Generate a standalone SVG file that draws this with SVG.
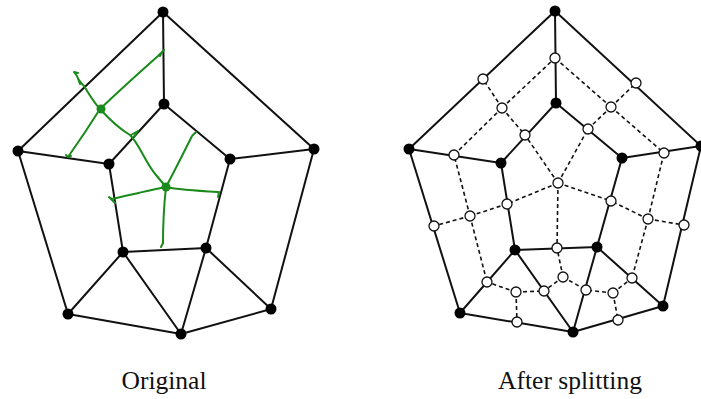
<svg xmlns="http://www.w3.org/2000/svg" width="701" height="399" viewBox="0 0 701 399">
<style>
.e{stroke:#111;stroke-width:2;fill:none;stroke-linecap:round}
.d{stroke:#111;stroke-width:1.6;fill:none;stroke-dasharray:4 3}
.g{stroke:#1a8a1a;stroke-width:2;fill:none;stroke-linecap:round;stroke-linejoin:round}
.n{fill:#000}
.h{fill:#fff;stroke:#111;stroke-width:1.3}
.t{font-family:"Liberation Serif",serif;font-size:25.5px;fill:#111;text-anchor:middle}
</style>
<rect width="701" height="399" fill="#fff"/>
<g id="left-edges">
<path class="e" d="M163 12L18 151M163 12L314 149M163 12L164 104M18 151L109 164M314 149L230 159M164 104L109 164M164 104L230 159M109 164L123 252M230 159L206 248M123 252L206 248M18 151L68 314M314 149L271 309M68 314L123 252M271 309L206 248M68 314L181 334M271 309L181 334M123 252L181 334M206 248L181 334"/>
</g>
<g id="left-green">
<path class="g" d="M100 109C120 90 140 72 158 56L164 50M158 56L162 52L160 56"/>
<path class="g" d="M100 109C92 100 88 92 84 86C80 82 78 80 77 76L74 72M77 76L80 84M74 72L78 73"/>
<path class="g" d="M100 109C90 125 80 140 68 157L66 155M68 157L71 156"/>
<path class="g" d="M100 109C110 120 118 128 130 135C140 145 145 162 156 175L166 187"/>
<path class="g" d="M131 135L138 131L134 137"/>
<path class="g" d="M166 187C175 170 185 150 192 136L196 132L192 136"/>
<path class="g" d="M166 187C180 190 200 191 219 192L218 197"/>
<path class="g" d="M166 187C150 190 130 195 112 199L109 197L115 203"/>
<path class="g" d="M166 187C164 205 163 225 163 243L161 247"/>
<circle cx="101" cy="109" r="4.5" fill="#1a8a1a"/>
<circle cx="166" cy="187" r="4.5" fill="#1a8a1a"/>
</g>
<g id="left-nodes">
<circle class="n" cx="163" cy="12" r="5.5"/>
<circle class="n" cx="164" cy="104" r="5.5"/>
<circle class="n" cx="18" cy="151" r="5.5"/>
<circle class="n" cx="314" cy="149" r="5.5"/>
<circle class="n" cx="109" cy="164" r="5.5"/>
<circle class="n" cx="230" cy="159" r="5.5"/>
<circle class="n" cx="123" cy="252" r="5.5"/>
<circle class="n" cx="206" cy="248" r="5.5"/>
<circle class="n" cx="68" cy="314" r="5.5"/>
<circle class="n" cx="271" cy="309" r="5.5"/>
<circle class="n" cx="181" cy="334" r="5.5"/>
</g>
<g id="right-edges">
<path class="e" d="M555 11L409 149M555 11L701 146M555 11L556 103M409 149L501 163M701 146L622 158M556 103L501 163M556 103L622 158M501 163L515 250M622 158L597 247M515 250L597 247M409 149L460 313M701 146L663 306M460 313L515 250M663 306L597 247M460 313L573 332M663 306L573 332M515 250L573 332M597 247L573 332"/>
</g>
<g id="right-dashed">
<path class="d" d="M502 108L483 79M502 108L555 58M502 108L525 135M502 108L454 155"/>
<path class="d" d="M611 107L636 83M611 107L555 58M611 107L588 129M611 107L664 153"/>
<path class="d" d="M558 183L525 135M558 183L588 129M558 183L507 204M558 183L611 201M558 183L557 248"/>
<path class="d" d="M470 216L454 155M470 216L507 204M470 216L434 226M470 216L487 282"/>
<path class="d" d="M648 219L664 153M648 219L611 201M648 219L684 225M648 219L632 278"/>
<path class="d" d="M563 277L557 248M563 277L544 291M563 277L586 290"/>
<path class="d" d="M516 292L487 282M516 292L544 291M516 292L517 322"/>
<path class="d" d="M613 293L586 290M613 293L632 278M613 293L618 320"/>
</g>
<g id="right-split-nodes">
<circle class="h" cx="555" cy="58" r="5"/>
<circle class="h" cx="483" cy="79" r="5"/>
<circle class="h" cx="636" cy="83" r="5"/>
<circle class="h" cx="502" cy="108" r="5"/>
<circle class="h" cx="611" cy="107" r="5"/>
<circle class="h" cx="525" cy="135" r="5"/>
<circle class="h" cx="588" cy="129" r="5"/>
<circle class="h" cx="454" cy="155" r="5"/>
<circle class="h" cx="664" cy="153" r="5"/>
<circle class="h" cx="558" cy="183" r="5"/>
<circle class="h" cx="470" cy="216" r="5"/>
<circle class="h" cx="507" cy="204" r="5"/>
<circle class="h" cx="434" cy="226" r="5"/>
<circle class="h" cx="611" cy="201" r="5"/>
<circle class="h" cx="648" cy="219" r="5"/>
<circle class="h" cx="684" cy="225" r="5"/>
<circle class="h" cx="557" cy="248" r="5"/>
<circle class="h" cx="563" cy="277" r="5"/>
<circle class="h" cx="487" cy="282" r="5"/>
<circle class="h" cx="516" cy="292" r="5"/>
<circle class="h" cx="544" cy="291" r="5"/>
<circle class="h" cx="586" cy="290" r="5"/>
<circle class="h" cx="613" cy="293" r="5"/>
<circle class="h" cx="632" cy="278" r="5"/>
<circle class="h" cx="517" cy="322" r="5"/>
<circle class="h" cx="618" cy="320" r="5"/>
</g>
<g id="right-nodes">
<circle class="n" cx="555" cy="11" r="5.5"/>
<circle class="n" cx="556" cy="103" r="5.5"/>
<circle class="n" cx="409" cy="149" r="5.5"/>
<circle class="n" cx="701" cy="146" r="5.5"/>
<circle class="n" cx="501" cy="163" r="5.5"/>
<circle class="n" cx="622" cy="158" r="5.5"/>
<circle class="n" cx="515" cy="250" r="5.5"/>
<circle class="n" cx="597" cy="247" r="5.5"/>
<circle class="n" cx="460" cy="313" r="5.5"/>
<circle class="n" cx="663" cy="306" r="5.5"/>
<circle class="n" cx="573" cy="332" r="5.5"/>
</g>
<g id="labels">
<text class="t" x="164" y="389">Original</text>
<text class="t" x="570" y="389">After splitting</text>
</g>
</svg>
